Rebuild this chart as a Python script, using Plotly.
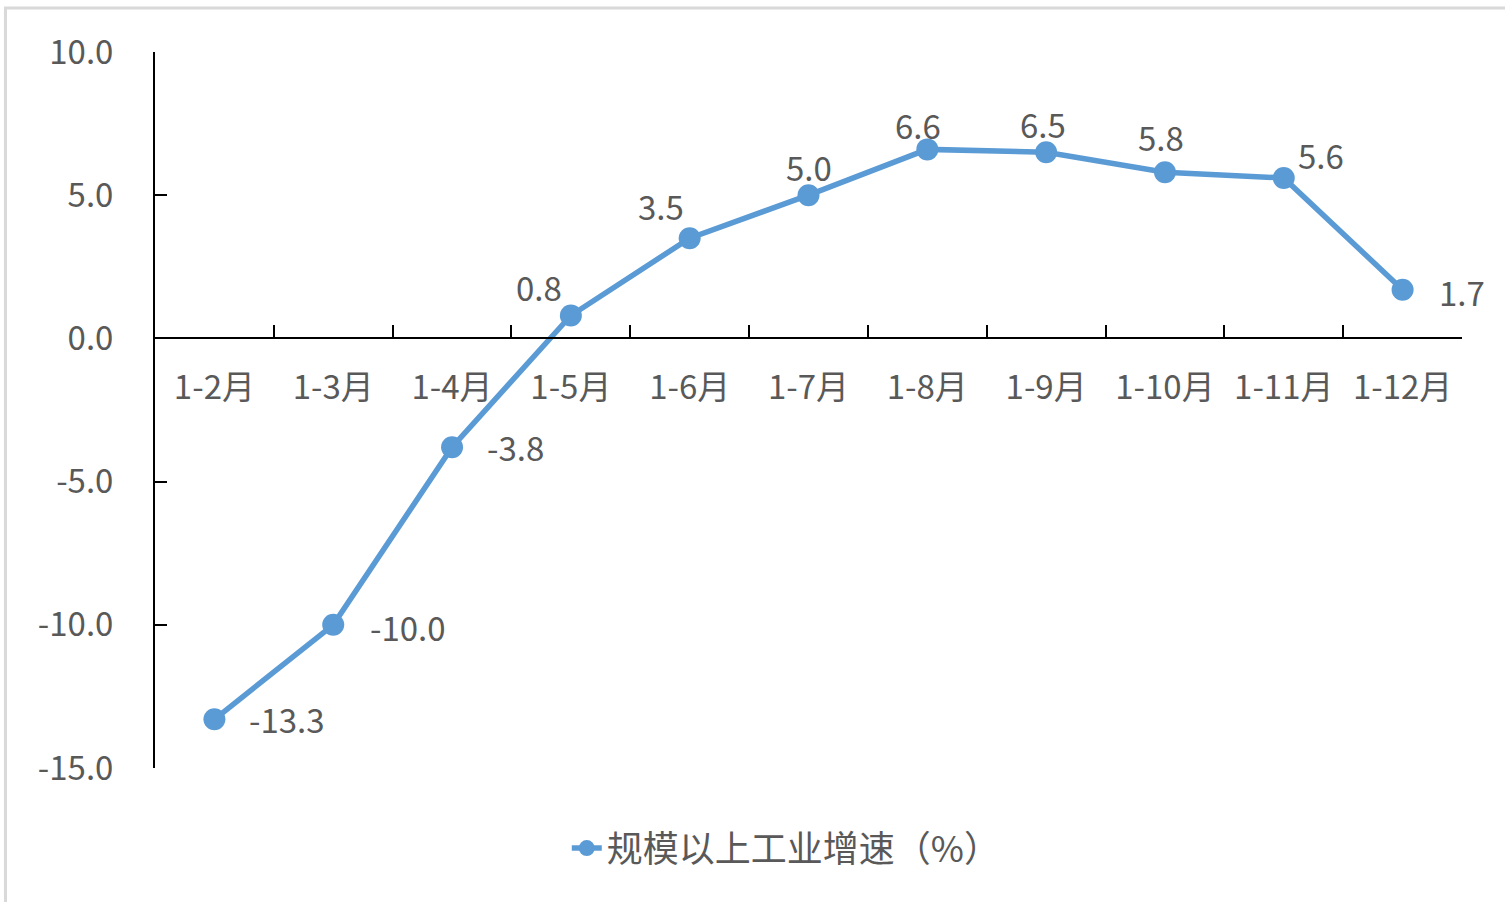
import plotly.graph_objects as go

# data
months = ['1-2月', '1-3月', '1-4月', '1-5月', '1-6月', '1-7月',
          '1-8月', '1-9月', '1-10月', '1-11月', '1-12月']
growth = [-13.3, -10.0, -3.8, 0.8, 3.5, 5.0, 6.6, 6.5, 5.8, 5.6, 1.7]
series_name = '规模以上工业增速（%）'
y_ticks = [10, 5, 0, -5, -10, -15]

# label offsets (px) from each marker, like the excel data labels
label_dx = [73, 75, 63, -32, -29, 0, -9, -3, -4, 37, 59]
label_dy = [0, -2, 0, 28, 32, 28, 24, 28, 35, 23, -2]

font_family = 'Noto Sans CJK SC, Noto Sans, sans-serif'
text_color = '#595959'
blue = '#5B9BD5'
fsize = 33

fig = go.Figure()

fig.add_trace(go.Scatter(
    x=months, y=growth,
    mode='lines+markers',
    name=series_name,
    line=dict(color=blue, width=5.5),
    marker=dict(color=blue, size=22),
))

annotations = []
for m, v, dx, dy in zip(months, growth, label_dx, label_dy):
    annotations.append(dict(
        x=m, y=v, xref='x', yref='y',
        text=f'{v:.1f}', showarrow=False,
        xshift=dx, yshift=dy,
        font=dict(size=fsize, color=text_color, family=font_family),
    ))

fig.update_layout(
    width=1505, height=902,
    margin=dict(l=155, r=43, t=52, b=134),
    paper_bgcolor='white',
    plot_bgcolor='white',
    font=dict(family=font_family, size=fsize, color=text_color),
    showlegend=True,
    legend=dict(
        orientation='h',
        x=0.483, y=-0.112, xanchor='center', yanchor='middle',
        font=dict(size=36, color=text_color),
        bgcolor='rgba(0,0,0,0)',
    ),
    annotations=annotations,
    xaxis=dict(
        type='category',
        range=[-0.5, len(months) - 0.5],
        anchor='free', position=15 / 25,
        showline=True, linecolor='black', linewidth=2,
        showgrid=False, zeroline=False,
        ticks='inside', tickson='boundaries',
        ticklen=12, tickwidth=2, tickcolor='black',
        ticklabelstandoff=20,
        tickfont=dict(size=fsize, color=text_color),
    ),
    yaxis=dict(
        range=[-15, 10],
        tickvals=y_ticks,
        ticktext=[f'{t:.1f}' for t in y_ticks],
        showline=True, linecolor='black', linewidth=2,
        showgrid=False, zeroline=False,
        ticks='inside', ticklen=12, tickwidth=2, tickcolor='black',
        ticklabelstandoff=33,
        tickfont=dict(size=fsize, color=text_color),
    ),
    # light grey chart-area border (only left and top edges show)
    shapes=[dict(
        type='rect', xref='paper', yref='paper',
        x0=-0.1144, x1=1.2, y0=-0.4, y1=1.0615,
        line=dict(color='#d9d9d9', width=3),
        layer='below',
    )],
)

fig.write_html('out.html', config={'displayModeBar': False},
               post_script="document.body.style.margin='0';")
